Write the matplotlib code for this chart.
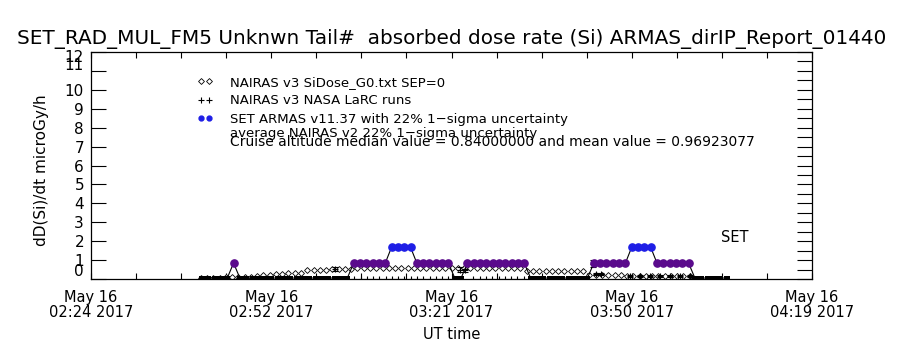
import numpy as np
import matplotlib
matplotlib.use("Agg")
import matplotlib.pyplot as plt
from matplotlib.lines import Line2D
import matplotlib.transforms as mtransforms

# ---------------- data ----------------
title = "SET_RAD_MUL_FM5 Unknwn Tail#  absorbed dose rate (Si) ARMAS_dirIP_Report_01440"
x_tick_labels = ["May 16\n02:24 2017", "May 16\n02:52 2017", "May 16\n03:21 2017",
                 "May 16\n03:50 2017", "May 16\n04:19 2017"]
x_span_min = 115.0            # minutes from 02:24 to 04:19
y_tick_values = list(range(13))
y_tick_labels = [str(v) for v in y_tick_values]

# SET ARMAS, ~1 min cadence starting 17.7 min after 02:24
armas_start_min = 17.7
armas_step_min = 1.008
armas_vals = [0.05, 0.05, 0.05, 0.05, 0.05,
              0.84,
              0.05, 0.05, 0.05, 0.05, 0.05, 0.05, 0.05, 0.05, 0.05,
              0.05, 0.05, 0.05, 0.05, 0.05, 0.05, 0.05, 0.05, 0.05,
              0.84, 0.84, 0.84, 0.84, 0.84, 0.84,
              1.68, 1.68, 1.68, 1.68,
              0.84, 0.84, 0.84, 0.84, 0.84, 0.84,
              0.05, 0.05,
              0.84, 0.84, 0.84, 0.84, 0.84, 0.84, 0.84, 0.84, 0.84, 0.84,
              0.05, 0.05, 0.05, 0.05, 0.05, 0.05, 0.05, 0.05, 0.05, 0.05,
              0.84, 0.84, 0.84, 0.84, 0.84, 0.84,
              1.68, 1.68, 1.68, 1.68,
              0.84, 0.84, 0.84, 0.84, 0.84, 0.84,
              0.05, 0.05, 0.05, 0.05, 0.05, 0.05]

# NAIRAS v3 SiDose_G0, 1 min cadence starting 17.5 min after 02:24
nairas_start_min = 17.5
nairas_step_min = 1.0
nairas_vals = [0.06, 0.06, 0.07, 0.07, 0.08, 0.08, 0.09, 0.10,
               0.12, 0.15, 0.20, 0.20, 0.26, 0.26, 0.33, 0.33, 0.33,
               0.47, 0.47, 0.47, 0.47, 0.53, 0.53, 0.53,
               0.55, 0.56, 0.56, 0.56, 0.56, 0.56, 0.56, 0.56, 0.56, 0.56,
               0.56, 0.56, 0.56, 0.57, 0.57, 0.57, 0.57, 0.57, 0.57, 0.57,
               0.57, 0.57, 0.57, 0.57, 0.57, 0.56, 0.56, 0.56,
               0.43, 0.43, 0.43, 0.43, 0.43, 0.43, 0.43, 0.43, 0.43, 0.43,
               0.23, 0.23, 0.23, 0.23, 0.23, 0.23,
               0.16, 0.16, 0.16, 0.16, 0.16, 0.16, 0.16, 0.16, 0.16, 0.16, 0.16]

# NAIRAS v3 NASA LaRC runs (non-zero)
larc_min = [38.9, 58.8, 59.6, 80.0, 80.6, 81.4, 86.0, 87.6, 89.2, 90.8, 92.4, 94.0, 95.6]
larc_vals = [0.52, 0.50, 0.45, 0.81, 0.28, 0.26, 0.16, 0.16, 0.16, 0.16, 0.16, 0.16, 0.16]
larc_rel_unc = 0.22
# NAIRAS v3 NASA LaRC runs reported as zero
larc_zero_min = [42, 43, 44, 45, 46, 47, 48, 49, 50, 51, 52, 53, 54, 55, 56, 57,
                 61, 62, 63, 64, 65, 66, 67, 68, 69]
larc_zero_vals = [0.0] * len(larc_zero_min)

legend_labels = ["NAIRAS v3 SiDose_G0.txt SEP=0",
                 "NAIRAS v3 NASA LaRC runs",
                 "SET ARMAS v11.37 with 22% 1\u2212sigma uncertainty"]
note_lines = ["average NAIRAS v2 22% 1\u2212sigma uncertainty",
              "Cruise altitude median value = 0.84000000 and mean value = 0.96923077"]
corner_text = "SET"
x_label = "UT time"
y_label = "dD(Si)/dt microGy/h"

# ---------------- plot ----------------
plt.rcParams['font.family'] = ['DejaVu Sans']
fig = plt.figure(figsize=(9, 3.5), dpi=100)
ax = fig.add_axes([91 / 900, 71 / 350, 721 / 900, 227 / 350])

armas_t = armas_start_min + armas_step_min * np.arange(len(armas_vals))
armas_v = np.array(armas_vals)
nairas_t = nairas_start_min + nairas_step_min * np.arange(len(nairas_vals))

PURPLE = '#5a0a8c'
BLUE = '#1e1ee6'

# NAIRAS diamonds
ax.plot(nairas_t, nairas_vals, linestyle='none', marker='D', ms=3.0,
        mfc='white', mec='black', mew=0.6, zorder=2)

# LaRC runs
ax.errorbar(larc_min, larc_vals, yerr=np.array(larc_vals) * larc_rel_unc,
            fmt='+', color='black', ms=5, mew=0.8, elinewidth=0.8,
            capsize=2.5, capthick=0.8, zorder=3)
ax.plot(larc_zero_min, larc_zero_vals, linestyle='none', marker='+', ms=5,
        mew=0.8, color='black', zorder=3)

# ARMAS line + coloured dots
ax.plot(armas_t, armas_v, color='black', lw=0.8, zorder=4)
low = armas_v < 0.3
mid = (armas_v >= 0.3) & (armas_v < 1.2)
high = armas_v >= 1.2
flat_marker = [(-1, -0.6), (1, -0.6), (1, 0.6), (-1, 0.6), (-1, -0.6)]
ax.plot(armas_t[low], armas_v[low], linestyle='none', marker=flat_marker, ms=4.6,
        color='black', mew=0, zorder=5)
ax.plot(armas_t[mid], armas_v[mid], linestyle='none', marker='o', ms=5.2,
        color=PURPLE, zorder=5)
ax.plot(armas_t[high], armas_v[high], linestyle='none', marker='o', ms=5.2,
        color=BLUE, zorder=5)

# axes
ax.set_xlim(0, x_span_min)
ax.set_ylim(0, 12)
ax.set_xticks(np.linspace(0, x_span_min, len(x_tick_labels)))
ax.set_xticks(np.linspace(0, x_span_min, 17), minor=True)
ax.set_xticklabels(x_tick_labels, fontsize=10.5, linespacing=0.95)
ax.set_yticks(y_tick_values)
ax.set_yticklabels(y_tick_labels, fontsize=11)
ax.set_yticks(np.arange(0, 12.01, 0.5), minor=True)
ax.tick_params(axis='x', which='both', direction='in', top=True, bottom=True,
               length=4, width=0.8, pad=8)
ax.tick_params(axis='y', which='major', direction='in', left=True, right=True,
               length=11, width=0.8, pad=5)
ax.tick_params(axis='y', which='minor', direction='in', left=False, right=True,
               length=11, width=0.8)
for sp in ax.spines.values():
    sp.set_linewidth(0.9)

# crowded end labels as in the reference
offsets = {0: 9, 11: 7, 12: -4}
for lab, v in zip(ax.get_yticklabels(), y_tick_values):
    if v in offsets:
        lab.set_transform(lab.get_transform() +
                          mtransforms.ScaledTranslation(0, offsets[v] / 100, fig.dpi_scale_trans))

ax.set_xlabel(x_label, fontsize=10.5, labelpad=5.5)
ax.set_ylabel(y_label, fontsize=11)
ax.yaxis.set_label_coords(-0.058, 0.48)
ax.set_title(title, fontsize=14.4, pad=6)

# legend
handles = [Line2D([], [], linestyle='none', marker='D', ms=3, mfc='white', mec='black', mew=0.6),
           Line2D([], [], linestyle='none', marker='+', ms=5, mew=0.8, color='black'),
           Line2D([], [], linestyle='none', marker='o', ms=3.5, color=BLUE)]
leg = ax.legend(handles, legend_labels, loc='upper left', bbox_to_anchor=(0.14, 0.918),
                frameon=False, fontsize=9.5, numpoints=2, handlelength=1.2,
                handletextpad=1.3, labelspacing=0.42, borderaxespad=0)
ax.text(0.193, 0.643, note_lines[0], transform=ax.transAxes, fontsize=9.5, va='center')
ax.text(0.193, 0.602, note_lines[1], transform=ax.transAxes, fontsize=10, va='center')
ax.text(0.893, 0.185, corner_text, transform=ax.transAxes, fontsize=10.5,
        ha='center', va='center')

fig.savefig("out.png", dpi=100)
